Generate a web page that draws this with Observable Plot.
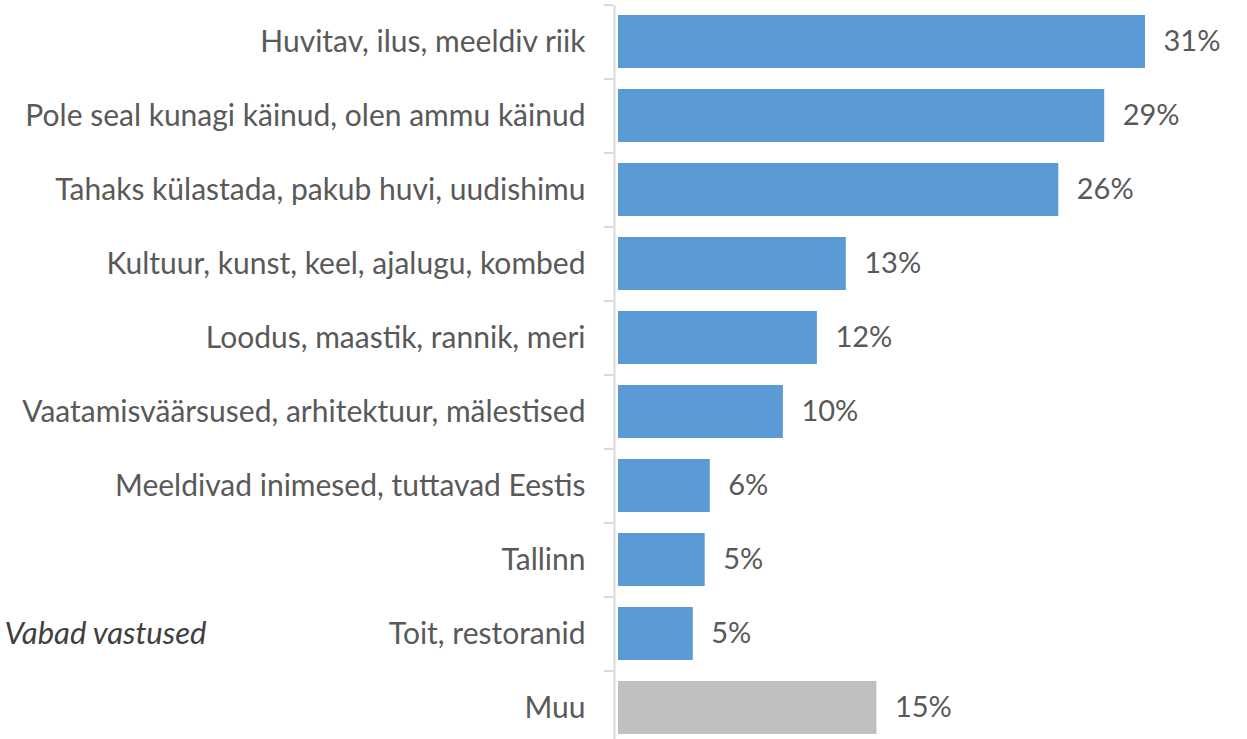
<!DOCTYPE html>
<html>
<head>
<meta charset="utf-8">
<script src="https://cdn.jsdelivr.net/npm/d3@7"></script>
<script src="https://cdn.jsdelivr.net/npm/@observablehq/plot@0.6"></script>
<style>
  html, body { margin: 0; padding: 0; background: #fff; }
  #chart { width: 1247px; height: 739px; overflow: hidden; }
</style>
</head>
<body>
<div id="chart"></div>
<script>
const categories = [
  "Huvitav, ilus, meeldiv riik",
  "Pole seal kunagi käinud, olen ammu käinud",
  "Tahaks külastada, pakub huvi, uudishimu",
  "Kultuur, kunst, keel, ajalugu, kombed",
  "Loodus, maastik, rannik, meri",
  "Vaatamisväärsused, arhitektuur, mälestised",
  "Meeldivad inimesed, tuttavad Eestis",
  "Tallinn",
  "Toit, restoranid",
  "Muu"
];
const values = [31.0, 28.6, 25.9, 13.4, 11.7, 9.7, 5.4, 5.1, 4.4, 15.2];
const valueLabels = ["31%", "29%", "26%", "13%", "12%", "10%", "6%", "5%", "5%", "15%"];
const groups = ["main", "main", "main", "main", "main", "main", "main", "main", "main", "other"];
const noteText = "Vabad vastused";
const noteRow = "Toit, restoranid";

const data = categories.map((c, i) => ({category: c, value: values[i], label: valueLabels[i], group: groups[i]}));

const FONT = "Lato, 'Open Sans', sans-serif";
const TEXT = "#595959";

const chart = Plot.plot({
  width: 1247,
  height: 739,
  marginTop: 5,
  marginBottom: 0,
  marginLeft: 617,
  marginRight: 0,
  style: {fontFamily: FONT, background: "#fff", overflow: "visible"},
  x: {domain: [0, 31], range: [618, 1145], axis: null},
  y: {domain: categories, range: [5, 745], paddingInner: 0.28, paddingOuter: 0.14, label: null},
  color: {domain: ["main", "other"], range: ["#5B9BD5", "#BFBFBF"]},
  marks: [
    Plot.barX(data, {x: "value", y: "category", fill: "group"}),
    Plot.ruleX([0], {dx: -4, stroke: "#D9D9D9", strokeWidth: 2}),
    Plot.axisY({tickSize: 0, tickPadding: 32, fontSize: 30, fill: TEXT, label: null}),
    Plot.axisY({tickSize: 9, dy: -37, dx: -4, text: null, stroke: "#D9D9D9", strokeWidth: 2, label: null}),
    Plot.text(data, {x: "value", y: "category", text: "label", textAnchor: "start", dx: 18, fontSize: 29, fill: TEXT}),
    Plot.text([noteText], {y: () => noteRow, frameAnchor: "left", dx: -613, textAnchor: "start", fontSize: 31, fontStyle: "italic", fill: "#404040", text: d => d})
  ]
});
document.getElementById("chart").appendChild(chart);
</script>
</body>
</html>
